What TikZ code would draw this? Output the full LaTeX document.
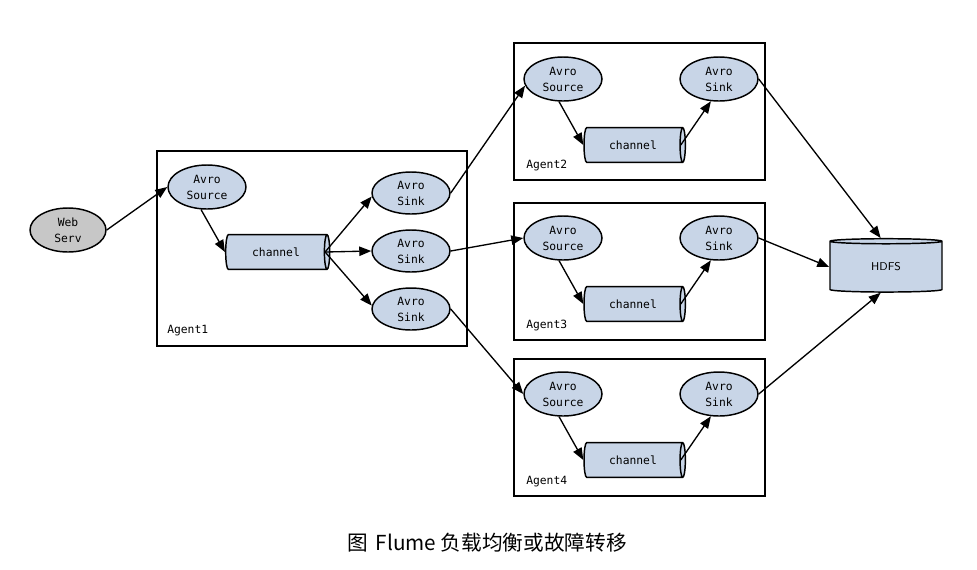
\documentclass[tikz,border=0pt]{standalone}
\usepackage{fontspec}
\setmonofont{DejaVu Sans Mono}
\newfontfamily\cjk{Noto Sans CJK SC}
\usetikzlibrary{shapes.geometric,arrows.meta}

\definecolor{avroblue}{RGB}{200,213,231}
\definecolor{webgray}{RGB}{199,199,199}

\tikzset{
  avro/.style={ellipse, draw, line width=1.1pt, fill=avroblue, minimum width=58.5pt, minimum height=33pt,
    inner sep=0pt, align=center, font=\ttfamily\fontsize{8.5}{12}\selectfont},
  chan/.style={cylinder, draw, line width=1.1pt, cylinder uses custom fill, cylinder body fill=avroblue,
    cylinder end fill=avroblue, aspect=0.6, minimum width=26pt, minimum height=78pt, inner sep=0pt,
    font=\ttfamily\fontsize{8.5}{12}\selectfont},
  agentbox/.style={draw, line width=1.2pt, inner sep=0pt, minimum width=188.25pt, minimum height=102.75pt},
  agentlabel/.style={anchor=west, inner sep=0.75pt, font=\ttfamily\fontsize{8.5}{12}\selectfont},
  flow/.style={-{Triangle[length=9pt,width=7pt]}, line width=1pt},
}

\begin{document}
\begin{tikzpicture}[x=0.75pt,y=0.75pt,yscale=-1,xscale=1]
\useasboundingbox (0,0) rectangle (977,569);

%Shape: Agent boxes
\node (ag1) [agentbox, minimum width=232.5pt, minimum height=146.25pt] at (312,248.5) {};
\node (ag2) [agentbox] at (639.5,111.5) {};
\node (ag3) [agentbox] at (639.5,271.5) {};
\node (ag4) [agentbox] at (639.5,427.5) {};

%Shape: Web server
\node (web) [avro, fill=webgray, minimum width=57pt] at (68,230) {Web\\Serv};

%Shape: Agent1
\node (src1) [avro] at (207,187) {Avro\\Source};
\node (ch1) [chan] at (276,252) {channel};
\node (snk1a) [avro, minimum height=31.5pt] at (411,193) {Avro\\Sink};
\node (snk1b) [avro, minimum height=31.5pt] at (411,251) {Avro\\Sink};
\node (snk1c) [avro, minimum height=31.5pt] at (411,309) {Avro\\Sink};

%Shape: Agent2
\node (src2) [avro] at (563,79) {Avro\\Source};
\node (ch2) [chan, minimum height=76pt] at (633,145) {channel};
\node (snk2) [avro] at (719,79) {Avro\\Sink};

%Shape: Agent3
\node (src3) [avro] at (563,238) {Avro\\Source};
\node (ch3) [chan, minimum height=76pt] at (633,304) {channel};
\node (snk3) [avro] at (719,238) {Avro\\Sink};

%Shape: Agent4
\node (src4) [avro] at (563,394) {Avro\\Source};
\node (ch4) [chan, minimum height=76pt] at (633,460) {channel};
\node (snk4) [avro] at (719,394) {Avro\\Sink};

%Shape: HDFS
\node (hdfs) [chan, shape border rotate=90, aspect=0.17, minimum width=84pt, minimum height=40pt,
  font=\sffamily\fontsize{8.5}{12}\selectfont] at (886,267) {HDFS};

%Straight Lines: into Agent1
\draw [flow] (web.east) -- (src1.west);
\draw [flow] (src1.255) -- (ch1.west);
\draw [flow] ([xshift=-4pt]ch1.top) -- (snk1a.185);
\draw [flow] ([xshift=-4pt]ch1.top) -- (snk1b.west);
\draw [flow] ([xshift=-4pt]ch1.top) -- (snk1c.175);

%Straight Lines: Agent1 to Agent2..4
\draw [flow] (snk1a.east) -- (src2.190);
\draw [flow] (snk1b.east) -- (src3.west);
\draw [flow] (snk1c.east) -- (src4.west);

%Straight Lines: inside Agent2..4
\draw [flow] (src2.260) -- (ch2.west);
\draw [flow] ([xshift=-4pt]ch2.top) -- (snk2.250);
\draw [flow] (src3.260) -- (ch3.west);
\draw [flow] ([xshift=-4pt]ch3.top) -- (snk3.250);
\draw [flow] (src4.260) -- (ch4.west);
\draw [flow] ([xshift=-4pt]ch4.top) -- (snk4.250);

%Straight Lines: to HDFS
\draw [flow] (snk2.east) -- ([xshift=-4pt]hdfs.top);
\draw [flow] (snk3.east) -- (hdfs.west);
\draw [flow] (snk4.east) -- ([xshift=-4pt]hdfs.bottom);

% Text Node
\node (lab1) [agentlabel] at (166,331) {Agent1};
% Text Node
\node (lab2) [agentlabel] at (525,166) {Agent2};
% Text Node
\node (lab3) [agentlabel] at (525,326) {Agent3};
% Text Node
\node (lab4) [agentlabel] at (525,482) {Agent4};
% Text Node
\node (cap) at (487,543) {\cjk\fontsize{15.5}{18}\selectfont 图\hspace{6pt}Flume 负载均衡或故障转移};

\end{tikzpicture}
\end{document}
